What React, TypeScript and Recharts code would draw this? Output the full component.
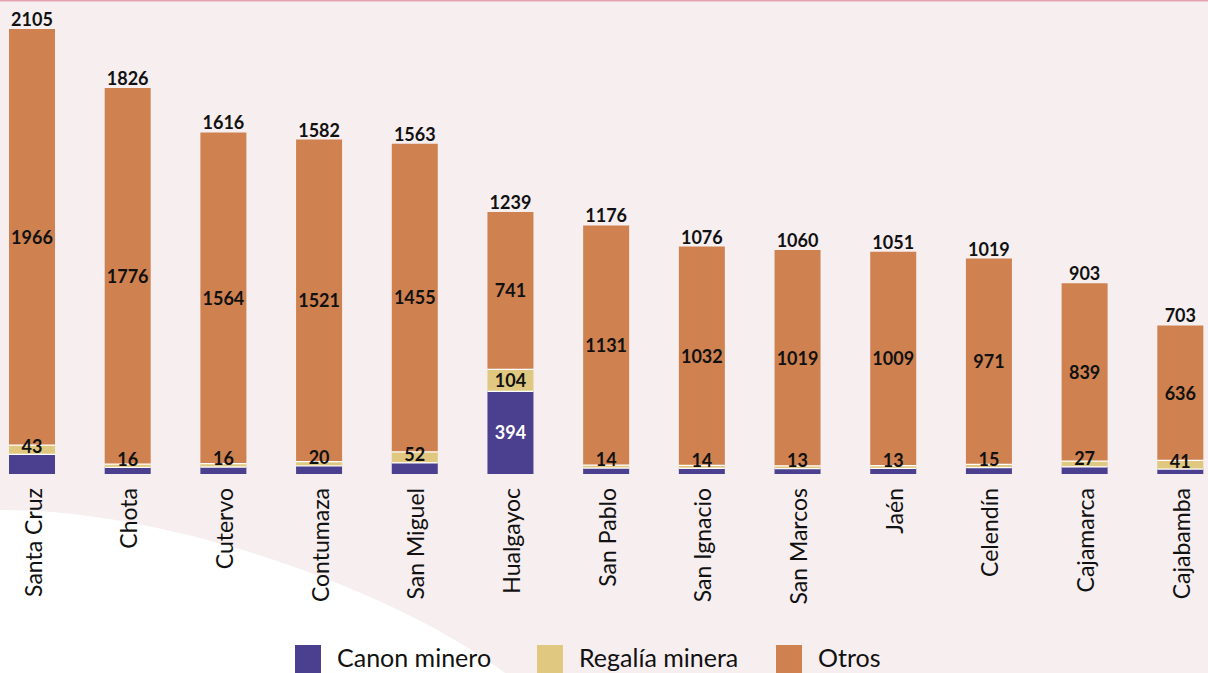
import React from "react";
import { BarChart, Bar, XAxis, YAxis, LabelList } from "recharts";

// Provincias de Cajamarca (millones de soles)
const provincias = [
  "Santa Cruz",
  "Chota",
  "Cutervo",
  "Contumaza",
  "San Miguel",
  "Hualgayoc",
  "San Pablo",
  "San Ignacio",
  "San Marcos",
  "Jaén",
  "Celendín",
  "Cajamarca",
  "Cajabamba",
];
const totales = [2105, 1826, 1616, 1582, 1563, 1239, 1176, 1076, 1060, 1051, 1019, 903, 703];
const regalia = [43, 16, 16, 20, 52, 104, 14, 14, 13, 13, 15, 27, 41];
const otros = [1966, 1776, 1564, 1521, 1455, 741, 1131, 1032, 1019, 1009, 971, 839, 636];
// canon = total - regalía - otros
const canon = [96, 34, 36, 41, 56, 394, 31, 30, 28, 29, 33, 37, 26];

const COLORS = {
  canon: "#4b3f8f",
  regalia: "#e0c880",
  otros: "#cf8150",
  bg: "#f7eef0",
  text: "#111111",
};
const FONT = "Lato, 'Open Sans', sans-serif";

const chartData = provincias.map((name, i) => ({
  name,
  canon: canon[i],
  regalia: regalia[i],
  otros: otros[i],
  total: totales[i],
}));

// segmento con línea blanca en el borde superior
const SegmentShape = (props: any) => {
  const { x, y, width, height, fill } = props;
  if (!height || height <= 0) return null;
  return (
    <g>
      <rect x={x} y={y} width={width} height={height} fill={fill} />
      <line x1={x} x2={x + width} y1={y} y2={y} stroke="#ffffff" strokeWidth={2.5} />
    </g>
  );
};

const XTick = (props: any) => {
  const { x, y, payload } = props;
  return (
    <text
      transform={`translate(${x},${y + 6}) rotate(-90)`}
      textAnchor="end"
      dy="0.42em"
      fontFamily={FONT}
      fontSize={23}
      fill={COLORS.text}
    >
      {payload.value}
    </text>
  );
};

const TotalLabel = (props: any) => {
  const { x, y, width, value } = props;
  return (
    <text
      x={x + width / 2}
      y={y - 3}
      textAnchor="middle"
      fontFamily={FONT}
      fontWeight={700}
      fontSize={18}
      fill={COLORS.text}
    >
      {value}
    </text>
  );
};

const CenterLabel = (props: any) => {
  const { x, y, width, height, value } = props;
  return (
    <text
      x={x + width / 2}
      y={y + height / 2}
      textAnchor="middle"
      dominantBaseline="central"
      fontFamily={FONT}
      fontWeight={700}
      fontSize={18}
      fill={COLORS.text}
    >
      {value}
    </text>
  );
};

// etiqueta de regalía: centrada, pero sin bajar demasiado en segmentos finos
const RegaliaLabel = (props: any) => {
  const { x, y, width, height, value } = props;
  const cy = Math.min(y + height / 2, y + height - 8);
  return (
    <text
      x={x + width / 2}
      y={cy}
      textAnchor="middle"
      dominantBaseline="central"
      fontFamily={FONT}
      fontWeight={700}
      fontSize={18}
      fill={COLORS.text}
    >
      {value}
    </text>
  );
};

const CanonLabel = (props: any) => {
  const { x, y, width, height, value } = props;
  if (value < 100) return null;
  return (
    <text
      x={x + width / 2}
      y={y + height / 2}
      textAnchor="middle"
      dominantBaseline="central"
      fontFamily={FONT}
      fontWeight={700}
      fontSize={18}
      fill="#ffffff"
    >
      {value}
    </text>
  );
};

const legendItems = [
  { label: "Canon minero", color: COLORS.canon, left: 295 },
  { label: "Regalía minera", color: COLORS.regalia, left: 537 },
  { label: "Otros", color: COLORS.otros, left: 776 },
];

export default function App() {
  return (
    <div
      style={{
        position: "absolute",
        left: 0,
        top: 0,
        width: 1208,
        height: 673,
        background: COLORS.bg,
        overflow: "hidden",
        fontFamily: FONT,
      }}
    >
      {/* fondo: línea superior y curva blanca */}
      <svg width={1208} height={673} style={{ position: "absolute", left: 0, top: 0 }}>
        <rect x={0} y={0} width={1208} height={1.5} fill="#e3a3b0" />
        <path d="M0,510 C150,508 380,580 505,673 L0,673 Z" fill="#ffffff" />
      </svg>

      <div style={{ position: "absolute", left: -16, top: 0 }}>
        <BarChart
          width={1244}
          height={673}
          data={chartData}
          margin={{ top: 9, right: 0, bottom: 0, left: 0 }}
          barSize={46}
        >
          <XAxis
            dataKey="name"
            axisLine={false}
            tickLine={false}
            interval={0}
            height={199}
            tick={<XTick />}
          />
          <YAxis hide domain={[0, 2200]} />
          <Bar
            dataKey="canon"
            stackId="a"
            fill={COLORS.canon}
            shape={<SegmentShape />}
            isAnimationActive={false}
          >
            <LabelList dataKey="canon" content={<CanonLabel />} />
          </Bar>
          <Bar
            dataKey="regalia"
            stackId="a"
            fill={COLORS.regalia}
            shape={<SegmentShape />}
            isAnimationActive={false}
          >
            <LabelList dataKey="regalia" content={<RegaliaLabel />} />
          </Bar>
          <Bar dataKey="otros" stackId="a" fill={COLORS.otros} isAnimationActive={false}>
            <LabelList dataKey="otros" content={<CenterLabel />} />
            <LabelList dataKey="total" content={<TotalLabel />} />
          </Bar>
        </BarChart>
      </div>

      {legendItems.map((item) => (
        <div key={item.label}>
          <span
            style={{
              position: "absolute",
              left: item.left,
              top: 645,
              width: 26,
              height: 28,
              background: item.color,
            }}
          />
          <span
            style={{
              position: "absolute",
              left: item.left + 42,
              top: 642,
              fontSize: 25,
              lineHeight: "30px",
              color: COLORS.text,
              whiteSpace: "nowrap",
            }}
          >
            {item.label}
          </span>
        </div>
      ))}
    </div>
  );
}
